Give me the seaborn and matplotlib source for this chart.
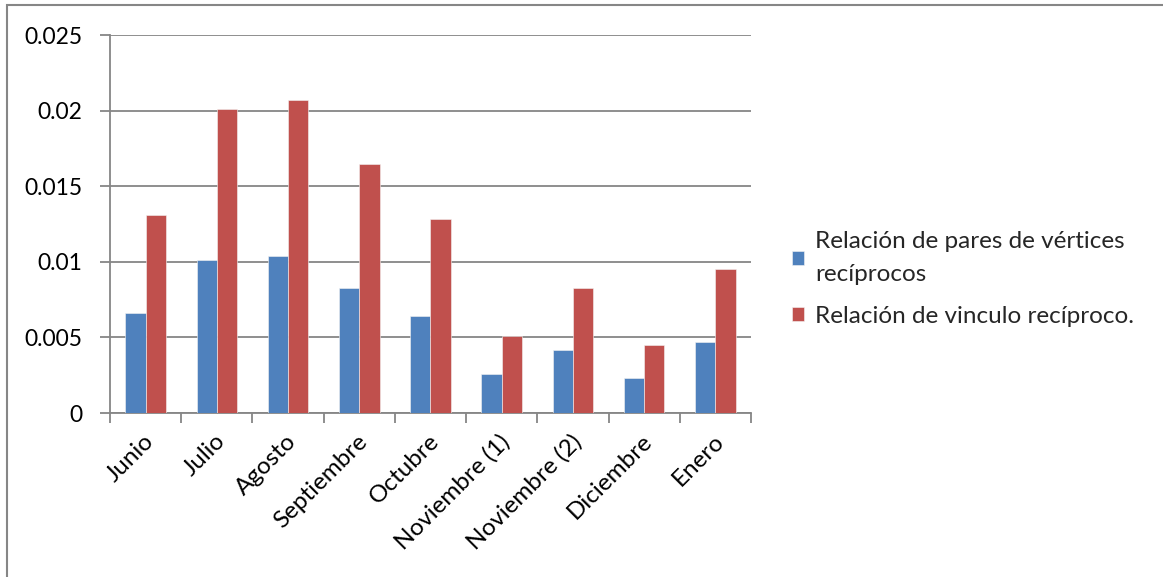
import matplotlib
matplotlib.use("Agg")
import matplotlib.pyplot as plt
from matplotlib.patches import Rectangle
from matplotlib.transforms import ScaledTranslation
import numpy as np
import pandas as pd
import seaborn as sns

# Monthly reciprocity ratios
meses = ["Junio", "Julio", "Agosto", "Septiembre", "Octubre",
         "Noviembre (1)", "Noviembre (2)", "Diciembre", "Enero"]
pares_reciprocos = [0.0066, 0.0101, 0.0104, 0.0083, 0.0064,
                    0.0026, 0.0042, 0.0023, 0.0047]
vinculo_reciproco = [0.0131, 0.0201, 0.0207, 0.0165, 0.0128,
                     0.0051, 0.0083, 0.0045, 0.0095]
serie_pares = "Relación de pares de vértices\nrecíprocos"
serie_vinculo = "Relación de vinculo recíproco."
y_ticks = [0, 0.005, 0.01, 0.015, 0.02, 0.025]
y_labels = ["0", "0.005", "0.01", "0.015", "0.02", "0.025"]

df = pd.DataFrame({
    "mes": meses * 2,
    "valor": pares_reciprocos + vinculo_reciproco,
    "serie": [serie_pares] * len(meses) + [serie_vinculo] * len(meses),
})

sns.set_theme(style="white")
plt.rcParams["font.family"] = ["Lato", "DejaVu Sans"]

GRID = "#868686"
FS = 17.5
fig = plt.figure(figsize=(11.63, 5.77), dpi=100)
ax = fig.add_axes([0.0946, 0.2842, 0.5511, 0.6551])

sns.barplot(data=df, x="mes", y="valor", hue="serie", order=meses,
            hue_order=[serie_pares, serie_vinculo],
            palette=["#4F81BD", "#C0504D"], saturation=1, width=0.57,
            edgecolor="#f4f4f4", linewidth=0.4, ax=ax, zorder=3)

ax.set_xlim(-0.5, len(meses) - 0.5)
ax.set_ylim(0, 0.025)
ax.set_yticks(y_ticks)
ax.set_yticklabels(y_labels, fontsize=16.5, color="black")
ax.yaxis.grid(True, color=GRID, linewidth=1.3, zorder=0)
ax.set_axisbelow(True)
ax.set_xlabel("")
ax.set_ylabel("")

# category labels at centres, tick marks on category boundaries
ax.set_xticks(range(len(meses)))
ax.set_xticklabels(meses, rotation=45, ha="right", va="center",
                   rotation_mode="anchor", fontsize=FS, color="black")
ax.set_xticks(np.arange(-0.5, len(meses)), minor=True)
ax.tick_params(axis="x", which="major", length=0, pad=18)
ax.tick_params(axis="x", which="minor", length=7, width=1.3, color=GRID,
               direction="out", bottom=True)
ax.tick_params(axis="y", which="major", length=7, width=1.3, color=GRID,
               direction="out", left=True, pad=13)
shift = ScaledTranslation(5 / 100, 0, fig.dpi_scale_trans)
for lbl in ax.get_xticklabels():
    lbl.set_transform(lbl.get_transform() + shift)

for side in ("top", "right"):
    ax.spines[side].set_visible(False)
for side in ("left", "bottom"):
    ax.spines[side].set_color(GRID)
    ax.spines[side].set_linewidth(1.3)

leg = ax.legend(loc="center left", bbox_to_anchor=(1.03, 0.355), frameon=False,
                fontsize=FS, handlelength=0.5, handleheight=0.5,
                handletextpad=0.45, labelspacing=0.85)
for t in leg.get_texts():
    t.set_linespacing(1.75)

# chart area border
fig.patches.append(Rectangle((7 / 1163, -0.1), 1.2, 1 - 5 / 577 + 0.1,
                             transform=fig.transFigure, fill=False,
                             edgecolor=GRID, linewidth=1.5))

fig.savefig("out.png", dpi=100)
